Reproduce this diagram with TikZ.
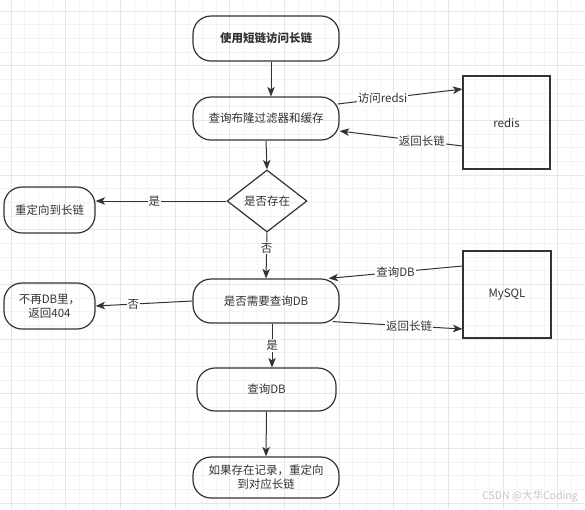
\documentclass[tikz,border=0pt]{standalone}
\usepackage{fontspec}
\setmainfont{Noto Sans CJK SC}
\usetikzlibrary{arrows.meta,shapes.geometric}
\definecolor{ink}{HTML}{333333}
\definecolor{gridminor}{HTML}{F3F3F3}
\definecolor{gridmajor}{HTML}{E6E6E6}
\begin{document}
\begin{tikzpicture}[x=1pt, y=-1pt, >={Stealth[length=9.5pt,width=7.5pt,inset=2.5pt]}, line width=1pt, color=ink,
  font=\fontsize{11.5}{14}\selectfont,
  term/.style={draw, rounded corners=18pt, minimum width=146pt, minimum height=45pt, align=center, line width=1.2pt},
  store/.style={draw, rectangle, minimum width=87pt, minimum height=90pt, line width=1.2pt},
  decide/.style={draw, diamond, aspect=1.3, minimum width=80pt, minimum height=62pt, inner sep=0pt, line width=1.2pt},
  lbl/.style={fill=white, inner sep=1pt}]
\useasboundingbox (0,0) rectangle (585,509);
\fill[white] (0,0) rectangle (585,509);
\foreach \k in {0,...,42} \draw[gridminor] ({11+13.667*\k},0) -- ({11+13.667*\k},509);
\foreach \k in {0,...,36} \draw[gridminor] (0,{11+13.667*\k}) -- (585,{11+13.667*\k});
\foreach \k in {0,...,10} \draw[gridmajor] ({11+54.667*\k},0) -- ({11+54.667*\k},509);
\foreach \k in {0,...,9} \draw[gridmajor] (0,{11+54.667*\k}) -- (585,{11+54.667*\k});

\node[term, font=\fontsize{11.5}{14}\selectfont\bfseries] (short) at (266,38.5) {使用短链访问长链};
\node[term, minimum height=43pt] (bloom) at (266,118.5) {查询布隆过滤器和缓存};
\node[store, minimum height=93pt] (redis) at (506.5,122.5) {redis};
\node[decide] (exist) at (267,201) {是否存在};
\node[term, minimum width=91pt, minimum height=46pt] (redirect) at (49.5,210) {重定向到长链};
\node[term, minimum height=44pt] (needdb) at (266,301) {是否需要查询DB};
\node[store, minimum width=88pt, minimum height=87pt] (mysql) at (507,294.5) {MySQL};
\node[term, minimum width=91pt, minimum height=46pt] (notdb) at (49.5,306) {不再DB里，\\返回404};
\node[term, minimum width=139pt, minimum height=43pt] (query) at (266.5,389.5) {查询DB};
\node[term, minimum height=41pt] (found) at (266,477.5) {如果存在记录，重定向\\到对应长链};

\draw[->] ([xshift=5pt]short.south) -- ([xshift=5pt]bloom.north);
\draw[->] (bloom.south) -- (exist.north);
\draw[->] ([xshift=-2pt,yshift=14.5pt]bloom.east) -- node[lbl, pos=0.36] {访问redsi} ([yshift=33.5pt]redis.west);
\draw[->] ([yshift=-23.5pt]redis.west) -- node[lbl, pos=0.33] {返回长链} ([yshift=-12.5pt]bloom.east);
\draw[->] (exist.west) -- node[lbl, pos=0.55] {是} (exist.west -| redirect.east);
\draw[->] (exist.south) -- node[lbl, pos=0.34] {否} (needdb.north);
\draw[->] ([yshift=28.5pt]mysql.west) -- node[lbl] {查询DB} ([xshift=-11pt]needdb.north east);
\draw[->] ([xshift=-7pt,yshift=2pt]needdb.south east) -- node[lbl, pos=0.59] {返回长链} ([yshift=-34.5pt]mysql.west);
\draw[->] (needdb.west) -- node[lbl, pos=0.61] {否} (notdb.east);
\draw[->] ([xshift=6pt]needdb.south) -- node[lbl] {是} ([xshift=5.5pt]query.north);
\draw[->] (query.south) -- (found.north);

\node[text=gray!45, font=\fontsize{10.5}{12}\selectfont] (mark) at (530,496) {CSDN @大华Coding};
\end{tikzpicture}
\end{document}
